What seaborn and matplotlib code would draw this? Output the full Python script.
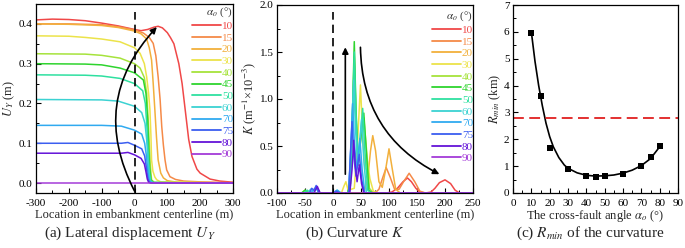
import numpy as np
import pandas as pd
import matplotlib
matplotlib.use("Agg")
import matplotlib.pyplot as plt
from matplotlib.lines import Line2D
from matplotlib.ticker import MultipleLocator
import seaborn as sns

sns.set_theme(style="white")
plt.rcParams['font.family'] = ['Liberation Serif', 'DejaVu Serif']
plt.rcParams['mathtext.fontset'] = 'stix'
plt.rcParams['axes.unicode_minus'] = False

angles = [10, 15, 20, 30, 40, 45, 50, 60, 70, 75, 80, 90]
colors = ['#f04848', '#f58a48', '#f2b03c', '#ece34a', '#a6e33c', '#2ed42e',
          '#2ee0a0', '#3cd2d2', '#30aaf0', '#3c5ef0', '#6414d8', '#a43cd8']

# ---- Panel (a): lateral displacement U_Y ----
UY10_x = [-300, -250, -200, -150, -100, -50, 0, 20, 40, 60, 72, 85, 100, 110, 120, 135, 145, 155, 165, 175, 190, 200, 230, 260, 300]
UY10_y = [0.410, 0.412, 0.411, 0.408, 0.402, 0.395, 0.386, 0.383, 0.386, 0.392, 0.394, 0.390, 0.378, 0.365, 0.350, 0.300, 0.250, 0.180, 0.110, 0.067, 0.035, 0.025, 0.010, 0.005, 0.002]
UY15_x = [-300, -200, -100, -50, 0, 27, 45, 57, 65, 72, 78, 83, 88, 93, 98, 108, 125, 150, 200, 300]
UY15_y = [0.400, 0.400, 0.398, 0.393, 0.385, 0.377, 0.366, 0.351, 0.320, 0.267, 0.210, 0.142, 0.095, 0.058, 0.033, 0.016, 0.009, 0.005, 0.003, 0.001]
UY20_x = [-300, -200, -100, -50, 0, 20, 37, 45, 52, 57, 62, 67, 72, 80, 88, 100, 130, 300]
UY20_y = [0.400, 0.399, 0.396, 0.391, 0.382, 0.375, 0.362, 0.340, 0.309, 0.250, 0.184, 0.115, 0.058, 0.025, 0.013, 0.006, 0.002, 0.0]
UY30_x = [-300, -200, -150, -100, -44, 0, 17, 30, 37, 43, 47, 50, 52, 56, 62, 68, 80, 300]
UY30_y = [0.370, 0.369, 0.366, 0.362, 0.355, 0.340, 0.326, 0.300, 0.267, 0.225, 0.184, 0.120, 0.058, 0.030, 0.015, 0.008, 0.003, 0.0]
UY40_x = [-300, -150, -100, -44, 0, 17, 30, 37, 41, 45, 48, 52, 60, 300]
UY40_y = [0.325, 0.324, 0.321, 0.314, 0.300, 0.289, 0.265, 0.226, 0.170, 0.100, 0.045, 0.008, 0.002, 0.0]
UY45_x = [-300, -150, -100, -44, 0, 27, 35, 40, 43, 46, 50, 58, 300]
UY45_y = [0.300, 0.299, 0.297, 0.289, 0.277, 0.259, 0.225, 0.160, 0.090, 0.040, 0.008, 0.001, 0.0]
UY50_x = [-300, -150, -100, -44, 0, 25, 33, 38, 42, 45, 49, 56, 300]
UY50_y = [0.272, 0.271, 0.269, 0.263, 0.250, 0.232, 0.200, 0.140, 0.070, 0.030, 0.006, 0.001, 0.0]
UY60_x = [-300, -100, -50, 0, 22, 32, 37, 41, 44, 48, 55, 300]
UY60_y = [0.210, 0.209, 0.206, 0.193, 0.177, 0.150, 0.110, 0.060, 0.025, 0.005, 0.001, 0.0]
UY70_x = [-300, -100, -40, 0, 22, 31, 36, 40, 43, 47, 55, 300]
UY70_y = [0.145, 0.145, 0.143, 0.133, 0.123, 0.100, 0.070, 0.035, 0.015, 0.003, 0.001, 0.0]
UY75_x = [-300, -100, -40, -20, 0, 22, 31, 36, 40, 44, 50, 300]
UY75_y = [0.100, 0.100, 0.100, 0.102, 0.095, 0.086, 0.068, 0.040, 0.015, 0.003, 0.0, 0.0]
UY80_x = [-300, -100, -40, -20, 0, 20, 30, 35, 39, 43, 50, 300]
UY80_y = [0.075, 0.075, 0.075, 0.077, 0.071, 0.062, 0.048, 0.028, 0.010, 0.002, 0.0, 0.0]
UY90_x = [-300, 300]
UY90_y = [0.0, 0.0]

# ---- Panel (b): curvature K ----
K10_x = [-100, 95, 105, 115, 125, 133, 140, 148, 155, 165, 175, 182, 190, 200, 210, 218, 226, 250]
K10_y = [0.0, 0.0, 0.01, 0.05, 0.12, 0.16, 0.12, 0.05, 0.01, 0.0, 0.01, 0.05, 0.11, 0.14, 0.10, 0.03, 0.0, 0.0]
K15_x = [-100, 75, 82, 88, 95, 102, 110, 118, 126, 136, 146, 155, 165, 250]
K15_y = [0.0, 0.0, 0.04, 0.15, 0.27, 0.17, 0.04, 0.04, 0.12, 0.21, 0.12, 0.02, 0.0, 0.0]
K20_x = [-100, 55, 62, 67, 71, 76, 82, 88, 94, 100, 106, 112, 120, 250]
K20_y = [0.0, 0.0, 0.15, 0.45, 0.61, 0.45, 0.12, 0.06, 0.25, 0.47, 0.25, 0.04, 0.0, 0.0]
K30_x = [-100, 15, 20, 23, 27, 38, 44, 49, 53, 57, 61, 66, 72, 80, 250]
K30_y = [0.0, 0.0, 0.08, 0.12, 0.03, 0.05, 0.55, 1.15, 0.60, 0.25, 0.35, 0.15, 0.02, 0.0, 0.0]
K40_x = [-100, -56, -50, -44, 26, 31, 35, 38, 41, 45, 50, 55, 60, 65, 72, 250]
K40_y = [0.0, 0.0, 0.03, 0.0, 0.0, 0.10, 0.80, 1.45, 0.80, 0.30, 0.60, 0.80, 0.45, 0.05, 0.0, 0.0]
K45_x = [-100, -56, -50, -44, 26, 31, 35, 38, 41, 45, 50, 55, 60, 64, 70, 250]
K45_y = [0.0, 0.0, 0.03, 0.0, 0.0, 0.10, 0.90, 1.61, 0.90, 0.30, 0.60, 0.85, 0.40, 0.03, 0.0, 0.0]
K50_x = [-100, -52, -46, -40, 26, 31, 35, 38, 41, 45, 49, 53, 57, 62, 68, 250]
K50_y = [0.0, 0.0, 0.03, 0.0, 0.0, 0.08, 0.85, 1.50, 0.85, 0.30, 0.60, 0.90, 0.45, 0.03, 0.0, 0.0]
K60_x = [-100, -45, -40, -34, -30, -25, 2, 8, 14, 28, 33, 37, 40, 44, 47, 51, 55, 60, 250]
K60_y = [0.0, 0.0, 0.04, 0.02, 0.05, 0.0, 0.0, 0.03, 0.0, 0.0, 0.60, 1.20, 0.70, 0.30, 0.50, 0.78, 0.35, 0.0, 0.0]
K70_x = [-100, -40, -35, -30, -25, 0, 7, 14, 28, 32, 35, 38, 42, 45, 48, 52, 57, 250]
K70_y = [0.0, 0.0, 0.03, 0.06, 0.0, 0.0, 0.03, 0.0, 0.0, 0.50, 0.95, 0.55, 0.25, 0.40, 0.58, 0.25, 0.0, 0.0]
K75_x = [-100, -42, -38, -34, -30, -25, 0, 6, 12, 28, 31, 34, 37, 41, 44, 47, 51, 56, 250]
K75_y = [0.0, 0.0, 0.05, 0.03, 0.08, 0.0, 0.0, 0.02, 0.0, 0.0, 0.40, 0.76, 0.40, 0.18, 0.30, 0.41, 0.15, 0.0, 0.0]
K80_x = [-100, -34, -28, -23, 30, 34, 37, 40, 43, 47, 51, 55, 250]
K80_y = [0.0, 0.0, 0.07, 0.0, 0.0, 0.25, 0.56, 0.28, 0.12, 0.30, 0.10, 0.0, 0.0]
K90_x = [-100, 250]
K90_y = [0.0, 0.0]

# ---- Panel (c): R_min vs angle ----
R_angle = [10, 15, 20, 30, 40, 45, 50, 60, 70, 75, 80]
R_min = [5.97, 3.62, 1.68, 0.88, 0.63, 0.61, 0.63, 0.72, 1.00, 1.33, 1.75]
Rfit_x = [10, 12, 14, 16, 18, 20, 22, 25, 28, 30, 35, 40, 45, 50, 55, 60, 65, 70, 75, 80]
Rfit_y = [6.0, 4.9, 4.0, 3.25, 2.6, 2.1, 1.72, 1.32, 1.04, 0.92, 0.75, 0.66, 0.63, 0.64, 0.67, 0.74, 0.85, 1.02, 1.28, 1.72]
R_limit = 2.8

UY_x = [UY10_x, UY15_x, UY20_x, UY30_x, UY40_x, UY45_x, UY50_x, UY60_x, UY70_x, UY75_x, UY80_x, UY90_x]
UY_y = [UY10_y, UY15_y, UY20_y, UY30_y, UY40_y, UY45_y, UY50_y, UY60_y, UY70_y, UY75_y, UY80_y, UY90_y]
K_x = [K10_x, K15_x, K20_x, K30_x, K40_x, K45_x, K50_x, K60_x, K70_x, K75_x, K80_x, K90_x]
K_y = [K10_y, K15_y, K20_y, K30_y, K40_y, K45_y, K50_y, K60_y, K70_y, K75_y, K80_y, K90_y]


def long_df(xs, ys):
    rows = []
    for a, xx, yy in zip(angles, xs, ys):
        for x, y in zip(xx, yy):
            rows.append((a, x, y))
    return pd.DataFrame(rows, columns=['angle', 'x', 'y'])


df_uy = long_df(UY_x, UY_y)
df_k = long_df(K_x, K_y)
palette = dict(zip(angles, colors))

fig = plt.figure(figsize=(6.85, 2.48), dpi=100)
W, H = 685, 248


def px_axes(l, r, t, b):
    return fig.add_axes([l / W, 1 - b / H, (r - l) / W, (b - t) / H])


axA = px_axes(36, 233, 4, 193)
axB = px_axes(277, 473, 5, 193)
axC = px_axes(513, 678, 5, 193)

TICK_FS = 8
LAB_FS = 9
CAP_FS = 11


def style_axes(ax):
    for s in ax.spines.values():
        s.set_color('black')
        s.set_linewidth(0.9)
    ax.tick_params(which='both', direction='in', top=False, right=False,
                   labelsize=TICK_FS, colors='black')
    ax.tick_params(axis='x', which='both', pad=4.5)
    ax.tick_params(axis='y', which='both', pad=2.5)
    ax.tick_params(which='major', length=3.5, width=0.8, bottom=True, left=True)
    ax.tick_params(which='minor', length=2, width=0.7, bottom=True, left=True)


def add_legend(ax, anchor):
    handles = [Line2D([0], [0], color=c, lw=1.3) for c in colors]
    leg = ax.legend(handles, [str(a) for a in angles], loc='upper right',
                    bbox_to_anchor=anchor, frameon=False, fontsize=8,
                    handlelength=2.6, handletextpad=0.1, labelspacing=0.17,
                    borderaxespad=0.0, borderpad=0.0,
                    title=r'$\alpha_o$ (°)', title_fontsize=8)
    for t, c in zip(leg.get_texts(), colors):
        t.set_color(c)
    leg.get_title().set_color('#333333')
    leg._legend_box.align = 'right'
    return leg


# Panel (a)
sns.lineplot(data=df_uy, x='x', y='y', hue='angle', palette=palette,
             hue_order=angles, estimator=None, sort=False, linewidth=1.1,
             legend=False, ax=axA)
axA.set_xlim(-300, 300)
axA.set_ylim(-0.025, 0.45)
axA.xaxis.set_major_locator(MultipleLocator(100))
axA.xaxis.set_minor_locator(MultipleLocator(50))
axA.yaxis.set_minor_locator(MultipleLocator(0.05))
axA.set_yticks([0.0, 0.1, 0.2, 0.3, 0.4])
axA.set_yticklabels(['0.0', '0.1', '0.2', '0.3', '0.4'])
axA.axvline(0, ymin=0, ymax=0.958, color='black', lw=1.2, ls=(0, (5, 3)))
axA.annotate('', xy=(68, 0.392), xytext=(0, -0.02),
             arrowprops=dict(arrowstyle='-|>', color='black', lw=1.2,
                             mutation_scale=9,
                             connectionstyle='arc3,rad=-0.35',
                             shrinkA=0, shrinkB=0))
axA.set_xlabel('Location in embankment centerline (m)', fontsize=LAB_FS, labelpad=0)
axA.set_ylabel(r'$U_Y$ (m)', fontsize=LAB_FS, labelpad=1)
style_axes(axA)
add_legend(axA, (1.0, 0.99))

# Panel (b)
sns.lineplot(data=df_k, x='x', y='y', hue='angle', palette=palette,
             hue_order=angles, estimator=None, sort=False, linewidth=1.1,
             legend=False, ax=axB)
axB.set_xlim(-100, 250)
axB.set_ylim(0, 2.0)
axB.xaxis.set_major_locator(MultipleLocator(50))
axB.xaxis.set_minor_locator(MultipleLocator(25))
axB.set_yticks([0.0, 0.5, 1.0, 1.5, 2.0])
axB.set_yticklabels(['0.0', '0.5', '1.0', '1.5', '2.0'])
axB.yaxis.set_minor_locator(MultipleLocator(0.25))
axB.axvline(0, ymin=0, ymax=0.965, color='black', lw=1.2, ls=(0, (5, 3)))
axB.annotate('', xy=(22, 1.55), xytext=(22, 0.2),
             arrowprops=dict(arrowstyle='-|>', color='black', lw=1.2,
                             mutation_scale=9, shrinkA=0, shrinkB=0))
axB.annotate('', xy=(190, 0.2), xytext=(49, 1.55),
             arrowprops=dict(arrowstyle='-|>', color='black', lw=1.2,
                             mutation_scale=9,
                             connectionstyle='arc3,rad=0.3',
                             shrinkA=0, shrinkB=0))
axB.set_xlabel('Location in embankment centerline (m)', fontsize=LAB_FS, labelpad=0)
axB.set_ylabel(r'$K$ (m$^{-1}$×10$^{-3}$)', fontsize=LAB_FS, labelpad=1)
style_axes(axB)
add_legend(axB, (1.0, 0.975))

# Panel (c)
df_fit = pd.DataFrame({'angle': Rfit_x, 'R': Rfit_y})
df_pts = pd.DataFrame({'angle': R_angle, 'R': R_min})
sns.lineplot(data=df_fit, x='angle', y='R', color='black', linewidth=1.2,
             estimator=None, sort=False, ax=axC)
sns.scatterplot(data=df_pts, x='angle', y='R', color='black', marker='s',
                s=22, edgecolor='black', linewidth=0, zorder=3, ax=axC)
axC.axhline(R_limit, color='#e02020', lw=1.3, ls=(0, (6, 3)))
axC.set_xlim(0, 90)
axC.set_ylim(0, 7)
axC.xaxis.set_major_locator(MultipleLocator(10))
axC.xaxis.set_minor_locator(MultipleLocator(5))
axC.yaxis.set_major_locator(MultipleLocator(1))
axC.yaxis.set_minor_locator(MultipleLocator(0.5))
axC.set_xlabel(r'The cross-fault angle $\alpha_o$ (°)', fontsize=LAB_FS, labelpad=0)
axC.set_ylabel(r'$R_{min}$ (km)', fontsize=LAB_FS, labelpad=1)
style_axes(axC)

# Captions
fig.text(130 / W, 1 - 233 / H, r'(a) Lateral displacement $U_Y$', ha='center',
         va='center', fontsize=CAP_FS)
fig.text(355 / W, 1 - 233 / H, r'(b) Curvature $K$', ha='center',
         va='center', fontsize=CAP_FS)
fig.text(590 / W, 1 - 233 / H, r'(c) $R_{min}$ of the curvature', ha='center',
         va='center', fontsize=CAP_FS)

fig.savefig('out.png', dpi=100)
